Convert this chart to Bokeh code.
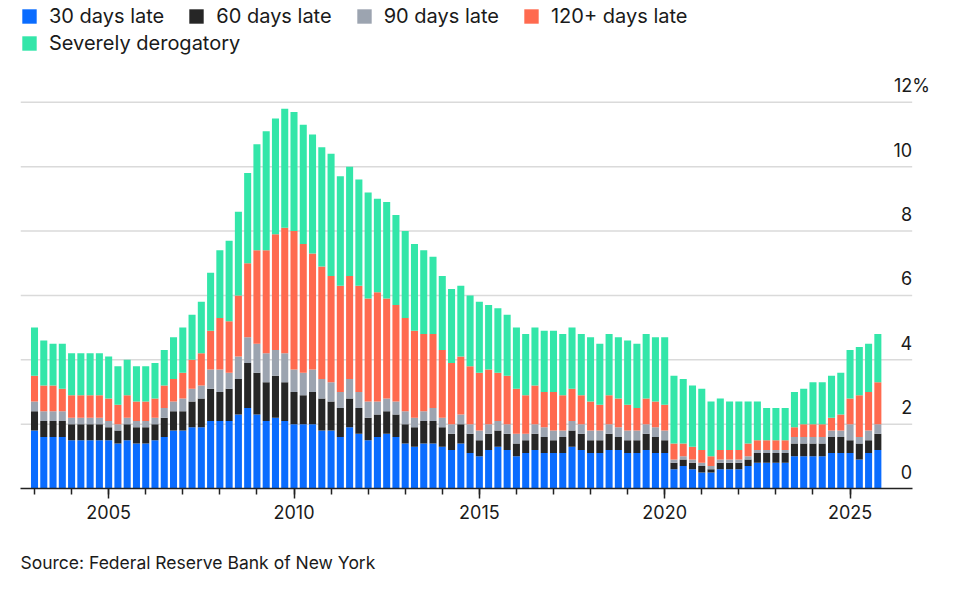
from bokeh.plotting import figure
from bokeh.models import ColumnDataSource, FixedTicker, Legend, LegendItem, Title, Range1d
from bokeh.embed import file_html
from bokeh.resources import INLINE
from bokeh.core.properties import value

# ---------------- data ----------------
quarters = [f"{y}Q{q}" for y in range(2003, 2026) for q in range(1, 5)]

days30 = [1.8, 1.6, 1.6, 1.6, 1.5, 1.5, 1.5, 1.5, 1.5, 1.4, 1.5, 1.4,
          1.4, 1.5, 1.6, 1.8, 1.8, 1.9, 1.9, 2.1, 2.1, 2.1, 2.3, 2.5,
          2.3, 2.1, 2.2, 2.1, 2.0, 2.0, 2.0, 1.8, 1.8, 1.6, 1.9, 1.7,
          1.5, 1.6, 1.7, 1.6, 1.4, 1.3, 1.4, 1.4, 1.3, 1.2, 1.4, 1.1,
          1.0, 1.2, 1.3, 1.2, 1.0, 1.1, 1.2, 1.1, 1.1, 1.1, 1.3, 1.2,
          1.1, 1.1, 1.2, 1.2, 1.1, 1.1, 1.2, 1.1, 1.1, 0.6, 0.7, 0.6,
          0.5, 0.5, 0.6, 0.6, 0.6, 0.7, 0.8, 0.8, 0.8, 0.8, 1.0, 1.0,
          1.0, 1.0, 1.1, 1.1, 1.1, 0.9, 1.1, 1.2]
days60 = [0.6, 0.5, 0.5, 0.5, 0.5, 0.5, 0.5, 0.5, 0.4, 0.4, 0.5, 0.5,
          0.5, 0.5, 0.6, 0.6, 0.6, 0.8, 0.9, 1.0, 0.9, 1.0, 1.1, 1.4,
          1.3, 1.2, 1.3, 1.2, 1.0, 0.9, 1.0, 1.0, 0.9, 0.9, 0.9, 0.8,
          0.7, 0.7, 0.7, 0.7, 0.6, 0.6, 0.7, 0.7, 0.6, 0.5, 0.6, 0.6,
          0.5, 0.5, 0.5, 0.5, 0.4, 0.4, 0.5, 0.5, 0.4, 0.5, 0.5, 0.5,
          0.4, 0.4, 0.5, 0.4, 0.4, 0.4, 0.5, 0.5, 0.4, 0.2, 0.2, 0.2,
          0.2, 0.1, 0.2, 0.2, 0.2, 0.2, 0.3, 0.3, 0.3, 0.3, 0.4, 0.4,
          0.4, 0.4, 0.5, 0.5, 0.4, 0.5, 0.4, 0.5]
days90 = [0.3, 0.3, 0.3, 0.3, 0.2, 0.2, 0.2, 0.2, 0.2, 0.2, 0.2, 0.2,
          0.2, 0.2, 0.3, 0.3, 0.4, 0.4, 0.4, 0.6, 0.7, 0.5, 0.7, 0.8,
          0.9, 0.9, 0.8, 0.9, 0.7, 0.7, 0.7, 0.6, 0.6, 0.5, 0.6, 0.5,
          0.5, 0.4, 0.4, 0.4, 0.4, 0.3, 0.3, 0.4, 0.3, 0.3, 0.3, 0.3,
          0.3, 0.3, 0.3, 0.3, 0.3, 0.2, 0.3, 0.3, 0.3, 0.2, 0.3, 0.3,
          0.3, 0.3, 0.3, 0.3, 0.3, 0.3, 0.3, 0.3, 0.3, 0.1, 0.1, 0.1,
          0.1, 0.1, 0.1, 0.1, 0.1, 0.1, 0.1, 0.1, 0.1, 0.1, 0.2, 0.2,
          0.2, 0.2, 0.2, 0.2, 0.5, 0.2, 0.3, 0.3]
days120 = [0.8, 0.8, 0.8, 0.7, 0.7, 0.7, 0.7, 0.7, 0.7, 0.6, 0.7, 0.6,
           0.6, 0.6, 0.7, 0.7, 0.8, 0.9, 1.0, 1.2, 1.6, 1.6, 1.9, 2.3,
           2.9, 3.2, 3.6, 3.9, 4.3, 4.0, 3.6, 3.5, 3.3, 3.3, 3.2, 3.3,
           3.2, 3.4, 3.1, 3.0, 2.9, 2.7, 2.4, 2.3, 2.1, 1.9, 1.8, 1.8,
           1.8, 1.7, 1.5, 1.5, 1.4, 1.2, 1.2, 1.1, 1.2, 1.1, 1.0, 0.9,
           0.9, 0.8, 0.9, 0.9, 0.8, 0.7, 0.8, 0.8, 0.8, 0.5, 0.4, 0.4,
           0.4, 0.3, 0.3, 0.3, 0.3, 0.4, 0.3, 0.3, 0.3, 0.3, 0.3, 0.4,
           0.4, 0.4, 0.4, 0.5, 0.8, 1.3, 1.2, 1.3]
severe = [1.5, 1.4, 1.3, 1.4, 1.3, 1.3, 1.3, 1.3, 1.3, 1.2, 1.1, 1.1,
          1.1, 1.1, 1.1, 1.3, 1.4, 1.4, 1.6, 1.8, 2.1, 2.5, 2.6, 2.8,
          3.3, 3.7, 3.6, 3.7, 3.7, 3.7, 3.7, 3.7, 3.8, 3.4, 3.4, 3.3,
          3.3, 2.9, 3.0, 2.8, 2.7, 2.7, 2.6, 2.4, 2.3, 2.3, 2.2, 2.2,
          2.2, 2.0, 2.0, 1.9, 1.9, 1.9, 1.8, 1.9, 1.9, 1.9, 1.9, 1.9,
          2.0, 1.9, 1.9, 1.9, 2.0, 2.0, 2.0, 2.0, 2.1, 2.1, 2.0, 1.9,
          1.9, 1.7, 1.6, 1.5, 1.5, 1.3, 1.2, 1.0, 1.0, 1.0, 1.1, 1.1,
          1.3, 1.3, 1.3, 1.3, 1.5, 1.5, 1.5, 1.5]

series_keys = ["d30", "d60", "d90", "d120", "sev"]
series_names = ["30 days late", "60 days late", "90 days late",
                "120+ days late", "Severely derogatory"]
colors = ["#0a6cff", "#262626", "#9ca4b0", "#ff6a4f", "#33e6a9"]

ytick_values = [0, 2, 4, 6, 8, 10, 12]
ytick_labels = ["0", "2", "4", "6", "8", "10", "12"]
y_unit = "%"
xtick_years = [2005, 2010, 2015, 2020, 2025]
xtick_labels = ["2005", "2010", "2015", "2020", "2025"]
xminor_years = list(range(2003, 2026))
source_text = "Source: Federal Reserve Bank of New York"

# ---------------- layout constants ----------------
FONT = "Inter"
TXT = "#1a1a1a"
X_START = 2002.622
X_END = 2027.44
GRID_END = 2026.676
Y_END = 15.163

x = [int(q[:4]) + (int(q[-1]) - 1) / 4 for q in quarters]
src = ColumnDataSource(dict(x=x, d30=days30, d60=days60, d90=days90,
                            d120=days120, sev=severe))

p = figure(width=975, height=601, output_backend="svg", toolbar_location=None,
           x_range=Range1d(X_START, X_END), y_range=Range1d(0, Y_END),
           y_axis_location=None,
           min_border_left=20, min_border_right=35,
           min_border_top=0, min_border_bottom=112)
p.outline_line_color = None
p.xgrid.visible = False
p.ygrid.visible = False
p.background_fill_color = "white"
p.border_fill_color = "white"

# gridlines (drawn from tick values)
gy = ytick_values[1:]
p.segment(x0=[X_START] * len(gy), x1=[GRID_END] * len(gy), y0=gy, y1=gy,
          line_color="#dadada", line_width=1.5)

renderers = p.vbar_stack(series_keys, x="x", width=0.19, source=src,
                         fill_color=colors, line_color=None)

# y tick labels above gridlines, right aligned
p.text(x=[GRID_END] * len(ytick_values), y=ytick_values, text=ytick_labels,
       text_align="right", text_baseline="alphabetic", y_offset=-17,
       text_font=value(FONT), text_font_size="18px", text_color=TXT)
p.text(x=[GRID_END], y=[ytick_values[-1]], text=[y_unit],
       text_align="left", text_baseline="alphabetic", y_offset=-17,
       text_font=value(FONT), text_font_size="18px", text_color=TXT)

# x axis
ax = p.xaxis[0]
ax.ticker = FixedTicker(ticks=xtick_years, minor_ticks=xminor_years)
ax.major_label_overrides = {yr: lab for yr, lab in zip(xtick_years, xtick_labels)}
ax.bounds = (X_START, GRID_END)
ax.axis_line_color = "#222222"
ax.axis_line_width = 1.5
ax.major_tick_in = 0
ax.major_tick_out = 10
ax.minor_tick_in = 0
ax.minor_tick_out = 6
ax.major_tick_line_color = "#222222"
ax.minor_tick_line_color = "#222222"
ax.major_tick_line_width = 1.5
ax.minor_tick_line_width = 1.5
ax.major_label_text_font = FONT
ax.major_label_text_font_size = "18px"
ax.major_label_text_color = TXT
ax.major_label_standoff = 6

# legends
def make_legend(items, loc):
    return Legend(items=items, location=loc, orientation="horizontal",
                  glyph_width=18, glyph_height=18, label_height=18,
                  label_standoff=11, spacing=23, padding=0, margin=0,
                  border_line_color=None, background_fill_alpha=0,
                  label_text_font=FONT, label_text_font_size="20px",
                  label_text_color=TXT)

items1 = [LegendItem(label=series_names[i], renderers=[renderers[i]]) for i in range(4)]
items2 = [LegendItem(label=series_names[4], renderers=[renderers[4]])]
p.add_layout(make_legend(items1, (0, 460)))
p.add_layout(make_legend(items2, (0, 433)))

# source
p.add_layout(Title(text=source_text, align="left", text_font=FONT,
                   text_font_size="17.5px", text_font_style="normal",
                   text_color=TXT, standoff=57), "below")

open("out.html", "w").write(file_html(p, INLINE))
